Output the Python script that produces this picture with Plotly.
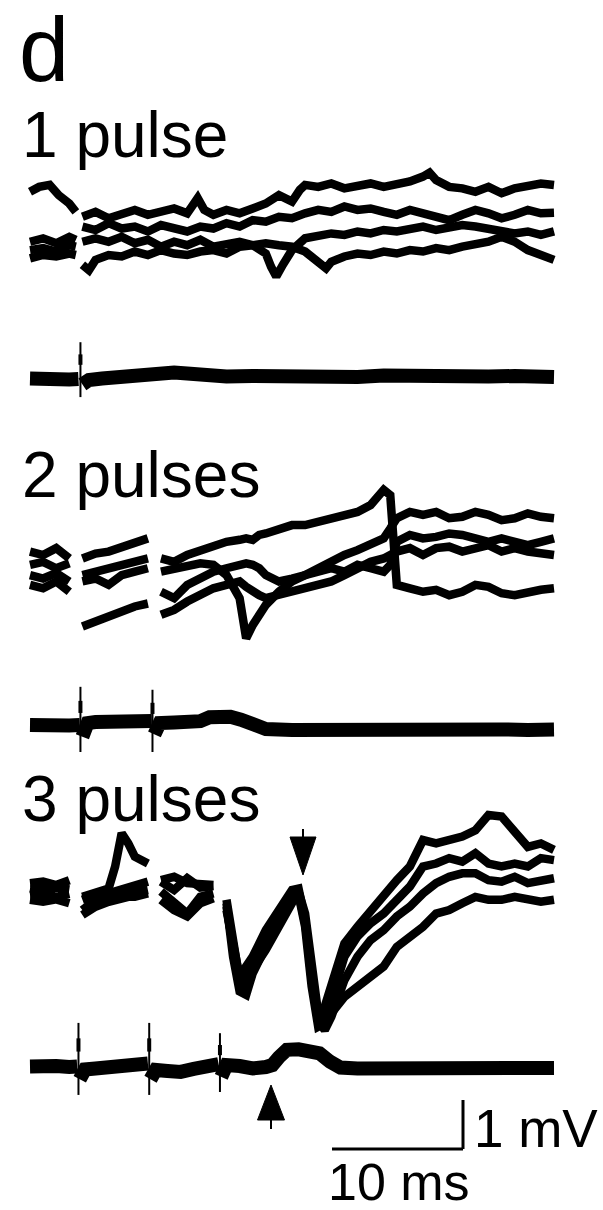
import plotly.graph_objects as go

# ---------------------------------------------------------------------------
# Recorded sweeps (time in ms, potential in mV relative to each sweep baseline)
# ---------------------------------------------------------------------------

# 1 pulse: intracellular sweeps
P1_T_A = [0, 0.7, 1.5, 2.2, 3, 3.5, 3.8, 4, 5, 6, 7, 8, 9, 10, 11, 12, 12.8, 13.3, 14, 15, 16, 17, 18, 19,
          20, 20.6, 21, 22, 23, 24, 25, 26, 27, 28, 29, 30, 30.5, 31, 32, 33, 34, 35, 36, 37, 38, 39, 40]
P1_V_A = [0.78, 0.88, 0.92, 0.71, 0.54, 0.37, None, 0.27, 0.37, 0.24, 0.34, 0.41, 0.31, 0.37, 0.44, 0.34,
          0.65, 0.41, 0.31, 0.41, 0.34, 0.44, 0.54, 0.71, 0.58, 0.82, 0.92, 0.88, 0.95, 0.85, 0.92, 0.95,
          0.88, 0.92, 0.99, 1.09, 1.17, 1.02, 0.88, 0.85, 0.78, 0.88, 0.75, 0.85, 0.88, 0.95, 0.92]

P1_T_B = [0, 1, 2, 3, 3.5, 3.8, 4, 5, 6, 7, 8, 9, 10, 11, 12, 13, 14, 15, 16, 17, 18, 19, 20, 21, 22,
          23, 24, 25, 26, 27, 28, 29, 30, 31, 32, 33, 34, 35, 36, 37, 38, 39, 40]
P1_V_B = [-0.24, -0.17, -0.27, -0.14, -0.20, None, 0.07, 0.00, 0.14, 0.03, 0.07, -0.03, 0.10, 0.03, -0.03,
          0.07, 0.03, 0.14, 0.07, 0.20, 0.17, 0.27, 0.24, 0.34, 0.41, 0.37, 0.48, 0.41, 0.44, 0.37, 0.31,
          0.41, 0.34, 0.27, 0.20, 0.31, 0.41, 0.34, 0.24, 0.31, 0.41, 0.34, 0.35]

P1_T_C = [0, 1, 2, 3, 3.5, 3.8, 4, 5, 6, 7, 8, 9, 10, 11, 12, 13, 14, 15, 16, 17, 18, 18.4, 18.8, 19.3,
          20, 21, 22, 23, 24, 25, 26, 27, 28, 29, 30, 31, 32, 33, 34, 35, 36, 37, 38, 39, 40]
P1_V_C = [-0.41, -0.37, -0.44, -0.31, -0.34, None, -0.24, -0.17, -0.24, -0.14, -0.27, -0.20, -0.34, -0.24,
          -0.31, -0.20, -0.34, -0.27, -0.24, -0.31, -0.48, -0.75, -0.95, -0.71, -0.41, -0.17, -0.14, -0.07,
          -0.10, -0.03, -0.07, 0.00, -0.03, 0.03, 0.07, 0.00, 0.03, 0.10, 0.07, 0.03, 0.00, -0.07, -0.03,
          -0.10, -0.03]

P1_T_D = [0, 1, 2, 3, 3.5, 3.8, 4, 4.5, 5, 6, 7, 8, 9, 10, 11, 12, 13, 14, 15, 16, 17, 18, 19, 20, 21,
          22, 22.6, 23, 24, 25, 26, 27, 28, 29, 30, 31, 32, 33, 34, 35, 36, 37, 38, 39, 40]
P1_V_D = [-0.58, -0.51, -0.54, -0.48, -0.51, None, -0.71, -0.82, -0.61, -0.51, -0.54, -0.44, -0.51, -0.41,
          -0.48, -0.51, -0.44, -0.41, -0.48, -0.34, -0.31, -0.27, -0.31, -0.34, -0.44, -0.65, -0.78, -0.65,
          -0.54, -0.48, -0.51, -0.44, -0.48, -0.41, -0.44, -0.37, -0.41, -0.34, -0.31, -0.24, -0.14, -0.24,
          -0.41, -0.51, -0.61]

# 2 pulses: intracellular sweeps (shared time base)
P2_T = [0, 1, 2, 3, 3.85, 4, 5, 6, 7, 8, 9, 9.3, 10, 11, 12, 13, 14, 15, 16, 16.5, 17, 17.5, 18, 19, 20,
        21, 22, 23, 24, 25, 26, 27, 27.5, 28, 29, 30, 31, 32, 33, 34, 35, 36, 37, 38, 39, 40]
P2_V_A = [0.58, 0.51, 0.65, 0.44, None, 0.44, 0.54, 0.58, 0.68, 0.78, 0.85, None, 0.44, 0.37, 0.51, 0.61,
          0.71, 0.78, 0.82, 0.85, 0.82, 0.92, 0.95, 1.02, 1.12, 1.12, 1.19, 1.26, 1.33, 1.39, 1.53, 1.84,
          1.73, -0.10, -0.17, -0.24, -0.20, -0.31, -0.24, -0.10, -0.14, -0.27, -0.31, -0.24, -0.20, -0.17]
P2_V_B = [0.31, 0.37, 0.24, 0.34, None, 0.10, 0.17, 0.24, 0.31, 0.37, 0.44, None, 0.17, 0.24, 0.31, 0.34,
          0.31, 0.10, -0.37, -1.19, -0.92, -0.71, -0.51, -0.24, -0.03, 0.10, 0.24, 0.37, 0.51, 0.61, 0.71,
          0.85, 1.05, 1.26, 1.39, 1.33, 1.39, 1.26, 1.29, 1.39, 1.33, 1.22, 1.26, 1.36, 1.29, 1.26]
P2_V_C = [0.10, 0.03, 0.14, -0.03, None, -0.95, -0.85, -0.71, -0.65, -0.54, -0.48, None, -0.71, -0.61,
          -0.44, -0.31, -0.17, -0.10, -0.03, -0.14, -0.24, -0.31, -0.37, -0.31, -0.24, -0.17, -0.10, -0.03,
          0.10, 0.24, 0.37, 0.44, 0.51, 0.58, 0.65, 0.51, 0.65, 0.68, 0.58, 0.65, 0.71, 0.58, 0.65, 0.58,
          0.54, 0.51]
P2_V_D = [-0.10, -0.17, -0.03, -0.24, None, -0.03, 0.03, -0.10, 0.10, 0.17, 0.24, None, -0.24, -0.37,
          -0.10, 0.03, 0.17, 0.24, 0.31, 0.34, 0.31, 0.24, 0.10, -0.03, 0.03, 0.10, 0.17, 0.24, 0.17, 0.31,
          0.24, 0.17, 0.31, 0.78, 0.92, 0.85, 0.88, 0.95, 0.92, 0.85, 0.78, 0.85, 0.78, 0.71, 0.78, 0.85]

# 3 pulses: intracellular sweeps (shared time base)
P3_T = [0, 1, 2, 3, 3.7, 4, 5, 6, 6.5, 7, 7.5, 8, 9, 9.1, 10, 11, 12, 13, 14, 14.5, 15, 15.5, 16, 16.5,
        17, 18, 19, 20, 20.5, 21, 21.5, 22, 22.5, 23, 24, 25, 26, 27, 28, 29, 30, 31, 32, 33, 34, 35, 36,
        37, 38, 39, 40]
P3_V_A = [0.14, 0.17, 0.10, 0.20, None, -0.14, -0.07, 0.03, 0.48, 1.16, 0.95, 0.68, 0.54, None, 0.20, 0.27,
          0.14, 0.14, 0.10, None, -0.41, -1.22, -1.77, -1.56, -1.36, -0.82, -0.41, 0.00, 0.03, -0.61, -1.84,
          -2.59, -2.38, -1.97, -1.09, -0.75, -0.41, -0.14, 0.20, 0.48, 1.02, 0.95, 1.02, 1.09, 1.22, 1.53,
          1.50, 1.16, 0.88, 0.95, 0.82]
P3_V_B = [0.03, 0.00, 0.05, 0.01, None, -0.20, -0.10, -0.07, -0.03, 0.00, 0.03, 0.08, 0.17, None, 0.17, 0.00,
          0.24, 0.05, 0.08, None, -0.34, -1.29, -1.97, -1.84, -1.50, -1.02, -0.54, -0.20, -0.10, -0.75, -1.97,
          -2.79, -2.72, -2.24, -1.36, -0.95, -0.68, -0.48, -0.20, 0.07, 0.48, 0.54, 0.65, 0.58, 0.75, 0.54,
          0.48, 0.54, 0.48, 0.65, 0.61]
P3_V_C = [-0.10, -0.07, -0.14, -0.08, None, -0.41, -0.20, -0.17, -0.14, -0.10, -0.07, -0.03, 0.00, None,
          -0.03, -0.27, -0.48, -0.14, -0.07, None, -0.27, -1.36, -2.07, -2.14, -1.70, -1.16, -0.61, -0.17,
          -0.07, -0.68, -1.70, -2.65, -2.86, -2.59, -1.84, -1.36, -1.02, -0.82, -0.54, -0.34, -0.07, 0.14,
          0.27, 0.34, 0.34, 0.20, 0.17, 0.27, 0.14, 0.20, 0.24]
P3_V_D = [-0.20, -0.24, -0.19, -0.27, None, -0.51, -0.34, -0.24, -0.20, -0.20, -0.14, -0.14, -0.07, None,
          -0.20, -0.41, -0.54, -0.27, -0.17, None, -0.20, -1.02, -1.84, -1.97, -1.63, -1.22, -0.75, -0.27,
          -0.03, -0.48, -1.56, -2.52, -2.79, -2.52, -2.18, -1.97, -1.77, -1.56, -1.16, -0.95, -0.75, -0.48,
          -0.41, -0.27, -0.14, -0.20, -0.20, -0.14, -0.20, -0.24, -0.20]

# Field (monitor) recordings under each set of sweeps
F1_T = [0, 1, 2, 3, 3.7, 3.85, 4.0, 4.5, 5.5, 7, 8, 9, 10, 11, 12, 13, 14, 15, 17, 19, 21, 23, 25, 27,
        29, 31, 33, 35, 37, 40]
F1_V = [-0.03, -0.06, -0.04, -0.05, -0.04, None, -0.15, -0.06, -0.03, 0.01, 0.04, 0.08, 0.10, 0.09, 0.07,
        0.04, 0.02, 0.01, 0.02, 0.00, 0.01, 0.02, 0.00, 0.03, 0.01, 0.02, 0.00, 0.01, 0.02, 0.00]

F2_T = [0, 1, 2, 3, 3.8, 3.85, 4.0, 4.4, 5, 6, 7, 8, 9, 9.3, 9.35, 9.5, 9.9, 11, 12, 13, 13.7, 14.5, 15.3,
        16.1, 17, 18, 20, 22, 24, 26, 28, 30, 32, 34, 36, 38, 40]
F2_V = [0.04, 0.02, 0.05, 0.03, 0.04, None, -0.20, 0.08, 0.10, 0.12, 0.10, 0.13, 0.12, 0.12, None, -0.15,
        0.08, 0.09, 0.10, 0.12, 0.20, 0.24, 0.21, 0.15, 0.04, -0.04, -0.06, -0.05, -0.07, -0.06, -0.05,
        -0.08, -0.07, -0.06, -0.05, -0.06, -0.05]

F3_T = [0, 1, 2, 3, 3.6, 3.7, 3.8, 4.2, 5, 6, 7, 8, 9.0, 9.1, 9.2, 9.6, 10.5, 11.5, 12.5, 13.5, 14.4, 14.5,
        14.6, 15, 16, 17, 18, 18.5, 19, 19.6, 20.5, 21.5, 22.1, 22.9, 23.7, 25, 27, 29, 31, 33, 35, 37, 39, 40]
F3_V = [0.01, -0.02, 0.02, 0.00, 0.01, None, -0.25, -0.05, -0.03, 0.00, 0.03, 0.05, 0.07, None, -0.25, -0.06,
        -0.08, -0.10, -0.04, 0.03, 0.06, None, -0.20, 0.04, 0.02, -0.03, 0.00, 0.04, 0.20, 0.35, 0.36, 0.34,
        0.28, 0.11, -0.01, -0.03, -0.02, -0.04, -0.02, -0.03, -0.02, -0.04, -0.03, -0.02]

# Stimulus artefacts: time, positive excursion, negative excursion (mV)
ART1_T, ART1_UP, ART1_DN = [3.85], [0.71], [-0.41]
ART2_T, ART2_UP, ART2_DN = [3.85, 9.35], [0.82, 0.76], [-0.51, -0.51]
ART3_T, ART3_UP, ART3_DN = [3.7, 9.1, 14.5], [0.90, 0.90, 0.69], [-0.57, -0.57, -0.51]

# Scale bar
SCALE_MS = 10
SCALE_MV = 1

# ---------------------------------------------------------------------------
# Page geometry
# ---------------------------------------------------------------------------
W, H = 603, 1210
PX_PER_MS = 13.1
PX_PER_MV = 49.0
SWEEP_X0 = 30  # horizontal pixel of t = 0


def xs(px):
    return (px - SWEEP_X0) / PX_PER_MS


def ys(py):
    return (H - py) / PX_PER_MV


# baselines of each row (pixel rows on the page)
OFF_P1, OFF_F1 = ys(230), ys(377)
OFF_P2, OFF_F2 = ys(580), ys(727)
OFF_P3, OFF_F3 = ys(890), ys(1067)

INK = "black"
FONT = "Liberation Sans, Arial, Helvetica, sans-serif"

fig = go.Figure()


def shifted(vals, off):
    return [None if v is None else v + off for v in vals]


def add_sweep(t, v, off, width):
    fig.add_trace(go.Scatter(
        x=t, y=shifted(v, off), mode="lines", connectgaps=False,
        line=dict(color=INK, width=width), hoverinfo="skip", showlegend=False))


def add_artefacts(ts, ups, dns, off):
    for t, u, d in zip(ts, ups, dns):
        fig.add_trace(go.Scatter(
            x=[t, t], y=[u + off, d + off], mode="lines",
            line=dict(color=INK, width=2), hoverinfo="skip", showlegend=False))
        fig.add_trace(go.Scatter(
            x=[t, t], y=[0.35 * u + off, 0.65 * u + off], mode="lines",
            line=dict(color=INK, width=4), hoverinfo="skip", showlegend=False))


SWEEP_W = 8.5
FIELD_W = 14

for t, v in [(P1_T_A, P1_V_A), (P1_T_B, P1_V_B), (P1_T_C, P1_V_C), (P1_T_D, P1_V_D)]:
    add_sweep(t, v, OFF_P1, SWEEP_W)
for v in [P2_V_A, P2_V_B, P2_V_C, P2_V_D]:
    add_sweep(P2_T, v, OFF_P2, SWEEP_W)
for v in [P3_V_A, P3_V_B, P3_V_C, P3_V_D]:
    add_sweep(P3_T, v, OFF_P3, SWEEP_W)

add_sweep(F1_T, F1_V, OFF_F1, FIELD_W)
add_sweep(F2_T, F2_V, OFF_F2, FIELD_W)
add_sweep(F3_T, F3_V, OFF_F3, FIELD_W)
add_artefacts(ART1_T, ART1_UP, ART1_DN, OFF_F1)
add_artefacts(ART2_T, ART2_UP, ART2_DN, OFF_F2)
add_artefacts(ART3_T, ART3_UP, ART3_DN, OFF_F3)

shapes = []

# scale bar (corner at lower right)
cx, cy = xs(463), ys(1149)
shapes.append(dict(type="line", x0=cx - SCALE_MS, x1=cx, y0=cy, y1=cy, line=dict(color=INK, width=3)))
shapes.append(dict(type="line", x0=cx, x1=cx, y0=cy, y1=cy + SCALE_MV, line=dict(color=INK, width=3)))


def arrow(px, tip_py, base_py, stem_py, half_w):
    tip, base = ys(tip_py), ys(base_py)
    path = (f"M {xs(px - half_w)} {base} L {xs(px + half_w)} {base} "
            f"L {xs(px)} {tip} Z")
    shapes.append(dict(type="path", path=path, fillcolor=INK, line=dict(color=INK, width=1)))
    shapes.append(dict(type="line", x0=xs(px), x1=xs(px), y0=base, y1=ys(stem_py),
                       line=dict(color=INK, width=2)))


arrow(303, 875, 837, 829, 13)       # downward arrow over the sweeps
arrow(271, 1085, 1120, 1129, 13.5)  # upward arrow under the field trace


def label(text, px_left, py_mid, size):
    return dict(text=text, x=xs(px_left), y=ys(py_mid), xref="x", yref="y",
                xanchor="left", yanchor="middle", showarrow=False,
                borderpad=0, borderwidth=0,
                font=dict(family=FONT, size=size, color=INK))


annotations = [
    label("d", 19, 50, 90),
    label("1 pulse", 22, 135, 64),
    label("2 pulses", 22, 475, 64),
    label("3 pulses", 22, 799, 64),
    label("1 mV", 474, 1128, 53),
    label("10 ms", 328, 1182, 52),
]

fig.update_layout(
    width=W, height=H,
    margin=dict(l=0, r=0, t=0, b=0),
    paper_bgcolor="white", plot_bgcolor="white",
    xaxis=dict(range=[xs(0), xs(W)], visible=False, fixedrange=True),
    yaxis=dict(range=[ys(H), ys(0)], visible=False, fixedrange=True),
    shapes=shapes, annotations=annotations,
    showlegend=False,
)

fig.write_html("out.html", config={"displayModeBar": False})
